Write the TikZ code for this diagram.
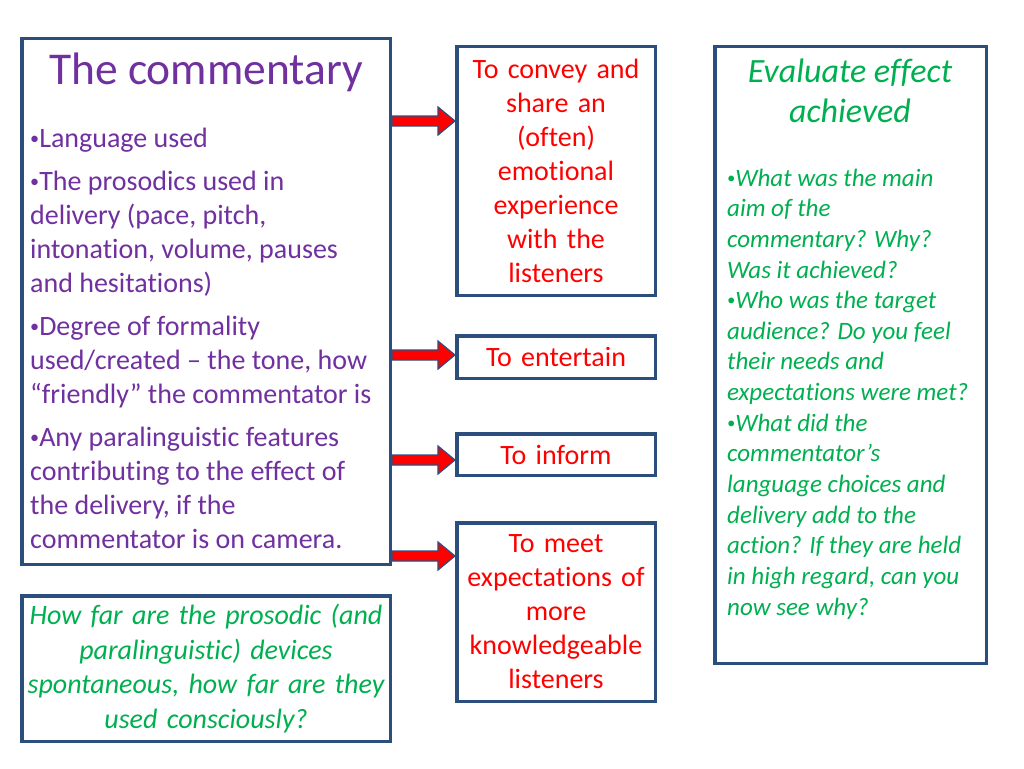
\documentclass[tikz,border=0pt]{standalone}
\usepackage{fontspec}
\usepackage{graphicx}
\setmainfont[Ligatures=NoCommon]{Carlito}
\usetikzlibrary{positioning,calc}
\definecolor{boxblue}{RGB}{44,78,125}
\definecolor{ppurple}{RGB}{112,48,160}
\definecolor{pgreen}{RGB}{0,176,80}
\newcommand{\dotb}{\raisebox{0.12em}{\scalebox{0.65}{•}}}

\begin{document}
\begin{tikzpicture}[x=1pt, y=1pt, node distance=30pt]
  % Styles
  \tikzstyle{box} = [rectangle, draw=boxblue, line width=3.5pt, fill=white, inner sep=0pt]
  \tikzstyle{aim} = [box, text=red, text width=190pt, align=center,
  minimum width=198.5pt, font=\fontsize{28}{34}\selectfont]
  \tikzstyle{fat} = [fill=red, draw=boxblue, line width=1.2pt, line join=miter,
  to path={($(\tikztostart)+(0,5)$) -- ($(\tikztotarget)+(-17,5)$) -- ($(\tikztotarget)+(-17,14)$)
    -- (\tikztotarget) -- ($(\tikztotarget)+(-17,-14)$) -- ($(\tikztotarget)+(-17,-5)$)
    -- ($(\tikztostart)+(0,-5)$) -- cycle}]

  \useasboundingbox (0,0) rectangle (1024,-768);

  \node [box, minimum width=368.5pt, minimum height=525.5pt] (comm) at (206,-301.5) {};
  \node [text=ppurple, font=\fontsize{45.5}{54}\selectfont, anchor=base] (title) at (206,-84) {The commentary};
  \node [text=ppurple, font=\fontsize{28}{34}\selectfont, align=left, anchor=north west, inner sep=0pt]
  (points) at (30,-128) {\dotb Language used\\[9pt]
    \dotb The prosodics used in\\delivery (pace, pitch,\\intonation, volume, pauses\\and hesitations)\\[9pt]
    \dotb Degree of formality\\used/created – the tone, how\\“friendly” the commentator is\\[9pt]
    \dotb Any paralinguistic features\\contributing to the effect of\\the delivery, if the\\commentator is on camera.};

  \node [box, minimum width=368.5pt, minimum height=145.5pt, below=28pt of comm, text=pgreen,
  font=\fontsize{28}{34.5}\selectfont\itshape, align=center, text width=360pt] (how)
  {How far are the prosodic (and\\paralinguistic) devices\\spontaneous, how far are they\\used consciously?};

  \node [aim, minimum height=248.5pt] (convey) at (556,-171)
  {To convey and\\share an\\(often)\\emotional\\experience\\with the\\listeners};
  \node [aim, minimum height=42.5pt, below=37pt of convey] (entertain) {To entertain};
  \node [aim, minimum height=41.5pt, below=52pt of entertain] (inform) {To inform};
  \node [aim, minimum height=178.5pt, below=44pt of inform] (meet)
  {To meet\\expectations of\\more\\knowledgeable\\listeners};

  \node [box, minimum width=271.5pt, minimum height=616.5pt] (eval) at (850.5,-355) {};
  \node [text=pgreen, font=\fontsize{34}{40}\selectfont\itshape, align=center, anchor=north, inner sep=0pt]
  (evaltitle) at (850,-59) {Evaluate effect\\achieved};
  \node [text=pgreen, font=\fontsize{25}{30.65}\selectfont\itshape, align=left, anchor=north west, inner sep=0pt]
  (questions) at (727,-168.5) {\dotb What was the main\\aim of the\\commentary? Why?\\Was it achieved?\\
    \dotb Who was the target\\audience? Do you feel\\their needs and\\expectations were met?\\
    \dotb What did the\\commentator’s\\language choices and\\delivery add to the\\action? If they are held\\in high regard, can you\\now see why?};

  \coordinate (a1) at (0,-121);
  \coordinate (a2) at (0,-355);
  \coordinate (a3) at (0,-460);
  \coordinate (a4) at (0,-556);
  \draw [fat] (comm.east |- a1) to (convey.west |- a1);
  \draw [fat] (comm.east |- a2) to (entertain.west |- a2);
  \draw [fat] (comm.east |- a3) to (inform.west |- a3);
  \draw [fat] (comm.east |- a4) to (meet.west |- a4);
\end{tikzpicture}
\end{document}
